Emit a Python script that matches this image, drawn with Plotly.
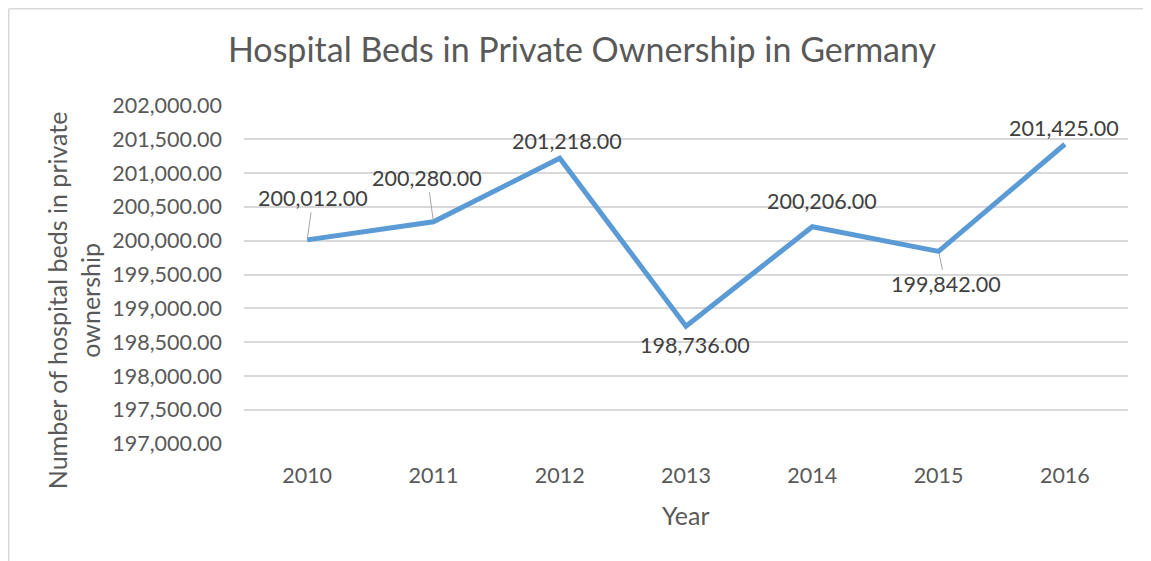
import plotly.graph_objects as go

# chart data
years = ["2010", "2011", "2012", "2013", "2014", "2015", "2016"]
beds = [200012, 200280, 201218, 198736, 200206, 199842, 201425]
y_ticks = [197000, 197500, 198000, 198500, 199000, 199500,
           200000, 200500, 201000, 201500, 202000]

# label placement (pixel offsets from point) and whether a leader line shows
label_offsets = [(6, -42), (-6, -44), (7, -17), (9, 19), (10, -26), (7, 33), (-1, -16)]
leaders = [True, True, False, False, False, True, False]

FONT = "Lato, Carlito, Calibri, Arial"
TEXT = "#595959"
GRID = "#D9D9D9"

fig = go.Figure()
fig.add_trace(go.Scatter(
    x=years, y=beds, mode="lines",
    line=dict(color="#5B9BD5", width=5),
    hoverinfo="x+y",
))

annotations = []
# category axis: annotations are placed by category index
for i, (val, (dx, dy), lead) in enumerate(zip(beds, label_offsets, leaders)):
    annotations.append(dict(
        x=i, y=val, xref="x", yref="y",
        text=f"{val:,.2f}",
        showarrow=True, arrowhead=0, arrowwidth=1, standoff=2,
        arrowcolor="#A6A6A6" if lead else "rgba(0,0,0,0)",
        ax=dx, ay=dy,
        font=dict(family=FONT, size=21.5, color="#404040"),
    ))

# axis titles
annotations.append(dict(
    text="Number of hospital beds in private<br>ownership",
    xref="paper", yref="paper", x=-0.192, y=0.425,
    textangle=-90, showarrow=False, xanchor="center", yanchor="middle",
    font=dict(family=FONT, size=25, color=TEXT),
))
annotations.append(dict(
    text="Year", xref="paper", yref="paper", x=0.5, y=-0.209,
    showarrow=False, xanchor="center", yanchor="middle",
    font=dict(family=FONT, size=25, color=TEXT),
))

fig.update_layout(
    width=1151, height=561,
    margin=dict(l=236, r=31, t=97, b=125),
    paper_bgcolor="white", plot_bgcolor="white",
    showlegend=False,
    title=dict(
        text="Hospital Beds in Private Ownership in Germany",
        x=0.4987, y=0.925, xanchor="center", yanchor="middle",
        font=dict(family=FONT, size=34, color=TEXT),
    ),
    font=dict(family=FONT, size=21.5, color=TEXT),
    annotations=annotations,
    xaxis=dict(
        type="category", range=[-0.5, 6.5],
        showgrid=False, showline=False, zeroline=False,
        ticks="", ticklabelstandoff=16,
        tickfont=dict(family=FONT, size=21.5, color=TEXT),
    ),
    yaxis=dict(
        range=[196995, 202005], tickvals=y_ticks,
        ticktext=[f"{v:,.2f}" for v in y_ticks],
        showgrid=True, gridcolor=GRID, gridwidth=1.5,
        zeroline=False, showline=False, ticks="", ticklabelstandoff=21,
        tickfont=dict(family=FONT, size=21.5, color=TEXT),
    ),
    shapes=[
        dict(type="line", xref="paper", yref="paper",
             x0=-0.2661, x1=1.05, y0=1.2840, y1=1.2840,
             line=dict(color=GRID, width=1.5)),
        dict(type="line", xref="paper", yref="paper",
             x0=-0.2661, x1=-0.2661, y0=1.2840, y1=-0.5,
             line=dict(color=GRID, width=1.5)),
    ],
)

fig.write_html("out.html")
